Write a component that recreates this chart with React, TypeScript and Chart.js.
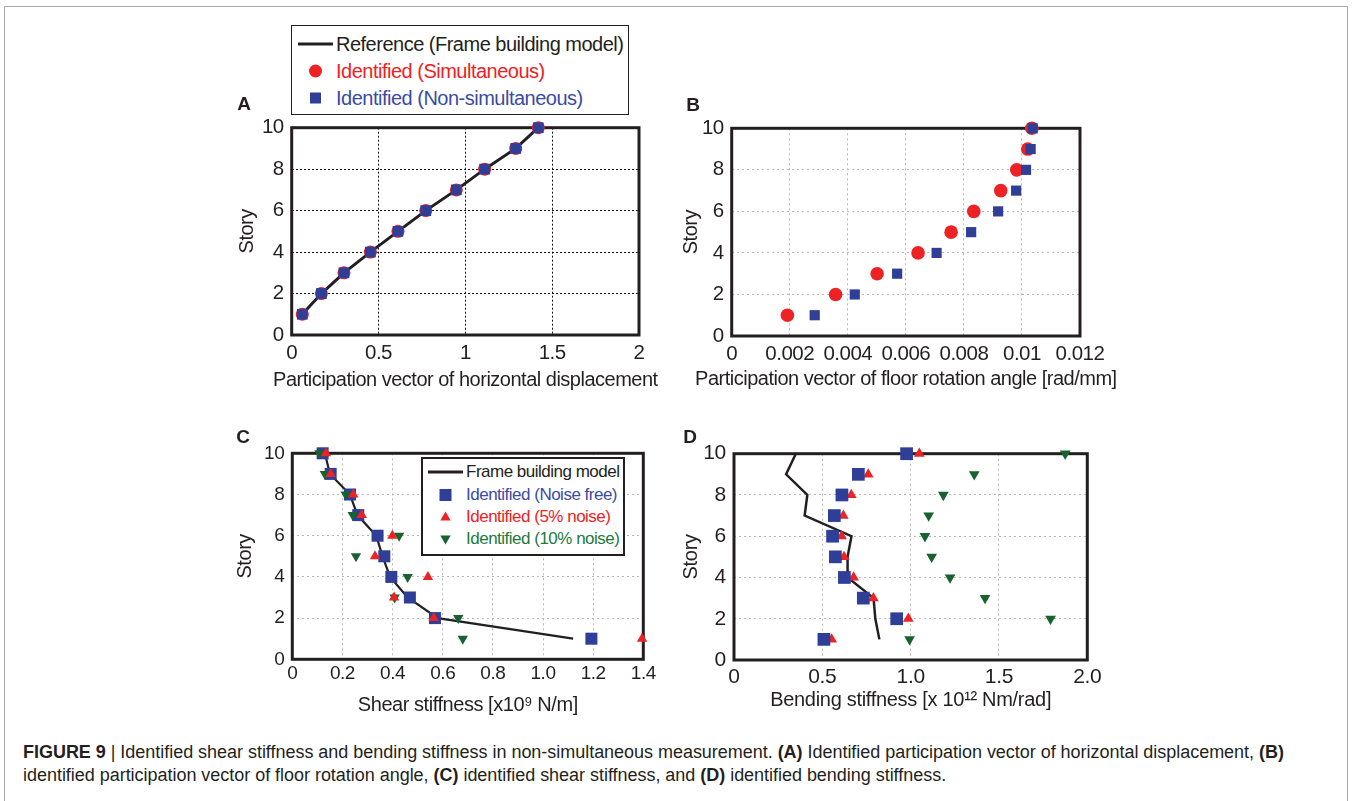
import React, { useEffect, useRef } from "react";
import { Chart, registerables } from "chart.js";

Chart.register(...registerables);

// ---------------- DATA ----------------
const STORIES = [1, 2, 3, 4, 5, 6, 7, 8, 9, 10];

// Panel A: participation vector of horizontal displacement
const A_REFERENCE = [0.061, 0.171, 0.301, 0.453, 0.612, 0.772, 0.948, 1.111, 1.29, 1.42];
const A_SIMULTANEOUS = [0.061, 0.171, 0.301, 0.453, 0.612, 0.772, 0.948, 1.111, 1.29, 1.42];
const A_NON_SIMULTANEOUS = [0.061, 0.171, 0.301, 0.453, 0.612, 0.772, 0.948, 1.111, 1.29, 1.42];
const A_X_TICKS = [0, 0.5, 1, 1.5, 2];
const A_X_LABELS = ["0", "0.5", "1", "1.5", "2"];

// Panel B: participation vector of floor rotation angle
const B_SIMULTANEOUS = [0.00192, 0.00358, 0.00501, 0.00642, 0.00756, 0.00834, 0.00927, 0.00982, 0.0102, 0.01034];
const B_NON_SIMULTANEOUS = [0.00286, 0.00424, 0.0057, 0.00706, 0.00825, 0.00918, 0.0098, 0.01014, 0.0103, 0.01037];
const B_X_TICKS = [0, 0.002, 0.004, 0.006, 0.008, 0.01, 0.012];
const B_X_LABELS = ["0", "0.002", "0.004", "0.006", "0.008", "0.01", "0.012"];

// Panel C: shear stiffness [x10^9 N/m]
const C_MODEL = [1.12, 0.58, 0.46, 0.39, 0.36, 0.335, 0.26, 0.23, 0.15, 0.13];
const C_NOISE_FREE = [1.193, 0.569, 0.469, 0.395, 0.367, 0.34, 0.263, 0.23, 0.153, 0.121];
const C_NOISE_5 = [1.395, 0.564, 0.406, 0.541, 0.33, 0.399, 0.277, 0.243, 0.153, 0.134];
const C_NOISE_10 = [0.68, 0.662, 0.408, 0.46, 0.254, 0.426, 0.241, 0.213, 0.13, 0.108];
const C_X_TICKS = [0, 0.2, 0.4, 0.6, 0.8, 1.0, 1.2, 1.4];
const C_X_LABELS = ["0", "0.2", "0.4", "0.6", "0.8", "1.0", "1.2", "1.4"];

// Panel D: bending stiffness [x10^12 Nm/rad]
const D_MODEL = [0.823, 0.8, 0.79, 0.643, 0.643, 0.665, 0.4, 0.415, 0.295, 0.35];
const D_NOISE_FREE = [0.509, 0.921, 0.732, 0.625, 0.574, 0.558, 0.568, 0.611, 0.704, 0.977];
const D_NOISE_5 = [0.553, 0.987, 0.789, 0.677, 0.623, 0.609, 0.619, 0.664, 0.76, 1.049];
const D_NOISE_10 = [0.994, 1.792, 1.421, 1.223, 1.119, 1.081, 1.102, 1.185, 1.36, 1.875];
const D_X_TICKS = [0, 0.5, 1.0, 1.5, 2.0];
const D_X_LABELS = ["0", "0.5", "1.0", "1.5", "2.0"];

const Y_TICKS = [0, 2, 4, 6, 8, 10];
const Y_LABELS = ["0", "2", "4", "6", "8", "10"];

// ---------------- STYLE ----------------
const RED = "#ed2224";
const BLUE = "#2f3f98";
const GREEN = "#17622f";
const INK = "#231f20";
const SANS = "'Liberation Sans', Arial, Helvetica, sans-serif";

const pts = (xs: number[], ys: number[]) => xs.map((x, i) => ({ x, y: ys[i] }));

const framePlugin = {
  id: "frame",
  beforeDatasetsDraw(chart: any) {
    const { ctx, chartArea } = chart;
    const { left, top, right, bottom } = chartArea;
    ctx.save();
    ctx.strokeStyle = INK;
    ctx.lineWidth = 3;
    ctx.strokeRect(left, top, right - left, bottom - top);
    ctx.restore();
  },
};

type Box = { x: number; y: number; w: number; h: number };
type Plot = { l: number; t: number; r: number; b: number };

type PanelSpec = {
  canvas: Box;
  plot: Plot;
  xMax: number;
  xTicks: number[];
  xLabels: string[];
  xTitle: string;
  yTitleCx: number;
  xTitleCy: number;
  xTickCy: number;
  tickSize: number;
  titleSize: number;
  spacing: number;
  gridColor: string;
  gridDash: number[];
  datasets: any[];
};

function buildConfig(p: PanelSpec): any {
  const tlh = p.titleSize * 1.2;
  const klh = p.tickSize * 1.2;
  const yAxisLeft = p.yTitleCx - tlh / 2 - 4;
  const xAxisBottom = p.xTitleCy + tlh / 2 + 4;
  const padding = {
    left: yAxisLeft - p.canvas.x,
    top: p.plot.t - p.canvas.y,
    right: p.canvas.x + p.canvas.w - p.plot.r,
    bottom: p.canvas.y + p.canvas.h - xAxisBottom,
  };
  const yWidth = p.plot.l - yAxisLeft;
  const xHeight = xAxisBottom - p.plot.b;
  const tickFont = { family: SANS, size: p.tickSize, lineHeight: 1.2 };
  const titleFont = { family: SANS, size: p.titleSize, lineHeight: 1.2 };
  // condensed look of the original lettering + room for long axis titles
  const textPlugin = {
    id: "textTweak",
    afterLayout(chart: any) {
      const x = chart.scales.x;
      x.left -= 150;
      x.right += 150;
      x.width += 300;
    },
    beforeDraw(chart: any) {
      chart.ctx.letterSpacing = `${p.spacing}px`;
    },
  };
  return {
    type: "scatter",
    data: { datasets: p.datasets },
    options: {
      responsive: false,
      animation: false,
      events: [],
      layout: { padding },
      plugins: { legend: { display: false }, tooltip: { enabled: false } },
      scales: {
        x: {
          type: "linear",
          min: 0,
          max: p.xMax,
          afterBuildTicks: (s: any) => {
            s.ticks = p.xTicks.map((v) => ({ value: v }));
          },
          afterFit: (s: any) => {
            s.height = xHeight;
          },
          ticks: {
            autoSkip: false,
            maxRotation: 0,
            color: INK,
            font: tickFont,
            padding: p.xTickCy - p.plot.b - klh / 2,
            callback: (_v: any, i: number) => p.xLabels[i],
          },
          grid: { color: p.gridColor, lineWidth: 1, drawTicks: false },
          border: { display: false, dash: p.gridDash },
          title: { display: true, text: p.xTitle, color: INK, font: titleFont, padding: { top: 4, bottom: 4 } },
        },
        y: {
          type: "linear",
          min: 0,
          max: 10,
          afterBuildTicks: (s: any) => {
            s.ticks = Y_TICKS.map((v) => ({ value: v }));
          },
          afterFit: (s: any) => {
            s.width = yWidth;
          },
          ticks: {
            autoSkip: false,
            color: INK,
            font: tickFont,
            padding: 8,
            callback: (_v: any, i: number) => Y_LABELS[i],
          },
          grid: { color: p.gridColor, lineWidth: 1, drawTicks: false },
          border: { display: false, dash: p.gridDash },
          title: { display: true, text: "Story", color: INK, font: titleFont, padding: { top: 4, bottom: 4 } },
        },
      },
    },
    plugins: [textPlugin, framePlugin],
  };
}

const lineDs = (xs: number[], width: number) => ({
  data: pts(xs, STORIES),
  showLine: true,
  borderColor: INK,
  borderWidth: width,
  pointRadius: 0,
  fill: false,
  clip: false,
  order: 10,
});

const markerDs = (xs: number[], style: string, radius: number, color: string, order: number, rotation = 0) => ({
  data: pts(xs, STORIES),
  showLine: false,
  pointStyle: style,
  pointRadius: radius,
  pointRotation: rotation,
  pointBackgroundColor: color,
  pointBorderColor: color,
  pointBorderWidth: 0,
  clip: false,
  order,
});

const PANELS: PanelSpec[] = [
  {
    canvas: { x: 200, y: 100, w: 470, h: 300 },
    plot: { l: 291.7, t: 127.7, r: 639, b: 335 },
    xMax: 2,
    xTicks: A_X_TICKS,
    xLabels: A_X_LABELS,
    xTitle: "Participation vector of horizontal displacement",
    yTitleCx: 247,
    xTitleCy: 380,
    xTickCy: 353.3,
    tickSize: 20.5,
    titleSize: 20,
    spacing: -0.5,
    gridColor: "#111",
    gridDash: [2, 2],
    datasets: [
      lineDs(A_REFERENCE, 3),
      markerDs(A_SIMULTANEOUS, "circle", 6.5, RED, 2),
      markerDs(A_NON_SIMULTANEOUS, "rect", 7.6, BLUE, 1),
    ],
  },
  {
    canvas: { x: 660, y: 100, w: 470, h: 300 },
    plot: { l: 731.7, t: 128.3, r: 1080, b: 336 },
    xMax: 0.012,
    xTicks: B_X_TICKS,
    xLabels: B_X_LABELS,
    xTitle: "Participation vector of floor rotation angle [rad/mm]",
    yTitleCx: 691.7,
    xTitleCy: 379,
    xTickCy: 354,
    tickSize: 20.5,
    titleSize: 20,
    spacing: -0.5,
    gridColor: "#b8b8b8",
    gridDash: [2, 3],
    datasets: [
      markerDs(B_SIMULTANEOUS, "circle", 6.8, RED, 2),
      markerDs(B_NON_SIMULTANEOUS, "rect", 7.2, BLUE, 1),
    ],
  },
  {
    canvas: { x: 200, y: 425, w: 470, h: 300 },
    plot: { l: 292.3, t: 453.3, r: 643.3, b: 659.3 },
    xMax: 1.4,
    xTicks: C_X_TICKS,
    xLabels: C_X_LABELS,
    xTitle: "Shear stiffness [x10\u2079 N/m]",
    yTitleCx: 245,
    xTitleCy: 705,
    xTickCy: 673.3,
    tickSize: 19,
    titleSize: 20,
    spacing: -0.45,
    gridColor: "#b8b8b8",
    gridDash: [2, 3],
    datasets: [
      lineDs(C_MODEL, 2.2),
      markerDs(C_NOISE_FREE, "rect", 8.5, BLUE, 3),
      markerDs(C_NOISE_10, "triangle", 6, GREEN, 2, 180),
      markerDs(C_NOISE_5, "triangle", 6, RED, 1),
    ],
  },
  {
    canvas: { x: 660, y: 425, w: 470, h: 300 },
    plot: { l: 734, t: 453.7, r: 1087.3, b: 660 },
    xMax: 2,
    xTicks: D_X_TICKS,
    xLabels: D_X_LABELS,
    xTitle: "Bending stiffness [x 10\u00b9\u00b2 Nm/rad]",
    yTitleCx: 691.7,
    xTitleCy: 700,
    xTickCy: 677.3,
    tickSize: 21,
    titleSize: 20,
    spacing: -0.3,
    gridColor: "#b8b8b8",
    gridDash: [2, 3],
    datasets: [
      lineDs(D_MODEL, 2.5),
      markerDs(D_NOISE_5, "triangle", 6.2, RED, 3),
      markerDs(D_NOISE_FREE, "rect", 9, BLUE, 2),
      markerDs(D_NOISE_10, "triangle", 6.2, GREEN, 1, 180),
    ],
  },
];

function Panel({ spec }: { spec: PanelSpec }) {
  const ref = useRef<HTMLCanvasElement | null>(null);
  useEffect(() => {
    if (!ref.current) return;
    const chart = new Chart(ref.current, buildConfig(spec));
    return () => chart.destroy();
  }, [spec]);
  return (
    <canvas
      ref={ref}
      width={spec.canvas.w}
      height={spec.canvas.h}
      style={{ position: "absolute", left: spec.canvas.x, top: spec.canvas.y, width: spec.canvas.w, height: spec.canvas.h }}
    />
  );
}

// ---------------- LEGENDS ----------------
function Marker({ kind, color, size }: { kind: string; color: string; size: number }) {
  const s = size;
  let shape: any = null;
  if (kind === "line") shape = <line x1={0} y1={s / 2} x2={s} y2={s / 2} stroke={color} strokeWidth={3} />;
  if (kind === "circle") shape = <circle cx={s / 2} cy={s / 2} r={6.5} fill={color} />;
  if (kind === "square") shape = <rect x={s / 2 - 5.5} y={s / 2 - 5.5} width={11} height={11} fill={color} />;
  if (kind === "square12") shape = <rect x={s / 2 - 6} y={s / 2 - 6} width={12} height={12} fill={color} />;
  if (kind === "up") shape = <polygon points={`${s / 2 - 5.2},${s / 2 + 3.5} ${s / 2 + 5.2},${s / 2 + 3.5} ${s / 2},${s / 2 - 5.5}`} fill={color} />;
  if (kind === "down") shape = <polygon points={`${s / 2 - 5.2},${s / 2 - 3.5} ${s / 2 + 5.2},${s / 2 - 3.5} ${s / 2},${s / 2 + 5.5}`} fill={color} />;
  return (
    <svg width={s} height={24} viewBox={`0 ${s / 2 - 12} ${s} 24`} style={{ display: "block" }}>
      {shape}
    </svg>
  );
}

type LegendItem = { kind: string; label: string; color: string; textColor: string };

function Legend({
  box,
  rows,
  items,
  markerX,
  markerW,
  textX,
  fontSize,
  spacing,
  border,
}: {
  box: Plot;
  rows: number[];
  items: LegendItem[];
  markerX: number;
  markerW: number;
  textX: number;
  fontSize: number;
  spacing: number;
  border: number;
}) {
  return (
    <>
      <div
        style={{
          position: "absolute",
          left: box.l,
          top: box.t,
          width: box.r - box.l,
          height: box.b - box.t,
          boxSizing: "border-box",
          border: `${border}px solid ${INK}`,
          background: "#fff",
        }}
      />
      {items.map((it, i) => (
        <React.Fragment key={i}>
          <div style={{ position: "absolute", left: markerX, top: rows[i] - 12 }}>
            <Marker kind={it.kind} color={it.color} size={markerW} />
          </div>
          <div
            style={{
              position: "absolute",
              left: textX,
              top: rows[i] - fontSize * 0.6,
              height: fontSize * 1.2,
              lineHeight: `${fontSize * 1.2}px`,
              fontFamily: SANS,
              fontSize,
              letterSpacing: `${spacing}px`,
              color: it.textColor,
              whiteSpace: "nowrap",
            }}
          >
            {it.label}
          </div>
        </React.Fragment>
      ))}
    </>
  );
}

const LEGEND_A: LegendItem[] = [
  { kind: "line", label: "Reference (Frame building model)", color: INK, textColor: INK },
  { kind: "circle", label: "Identified (Simultaneous)", color: RED, textColor: RED },
  { kind: "square", label: "Identified (Non-simultaneous)", color: BLUE, textColor: "#3b4ba3" },
];

const LEGEND_C: LegendItem[] = [
  { kind: "line", label: "Frame building model", color: INK, textColor: INK },
  { kind: "square12", label: "Identified (Noise free)", color: BLUE, textColor: "#3b4ba3" },
  { kind: "up", label: "Identified (5% noise)", color: RED, textColor: RED },
  { kind: "down", label: "Identified (10% noise)", color: GREEN, textColor: "#237a3e" },
];

function PanelLetter({ text, cx, cy }: { text: string; cx: number; cy: number }) {
  return (
    <div
      style={{
        position: "absolute",
        left: cx,
        top: cy,
        transform: "translate(-50%, -50%)",
        fontFamily: SANS,
        fontWeight: 700,
        fontSize: 19,
        lineHeight: "20px",
        color: INK,
      }}
    >
      {text}
    </div>
  );
}

export default function App() {
  return (
    <div
      style={{
        position: "absolute",
        left: 0,
        top: 0,
        width: 1352,
        height: 801,
        overflow: "hidden",
        background: "#fff",
      }}
    >
      <div
        style={{
          position: "absolute",
          left: 4,
          top: 6,
          width: 1344,
          height: 900,
          boxSizing: "border-box",
          border: "1.5px solid #a9a9a9",
        }}
      />
      {PANELS.map((p, i) => (
        <Panel key={i} spec={p} />
      ))}
      <Legend
        box={{ l: 291, t: 24.5, r: 629, b: 115 }}
        rows={[44, 71, 97.7]}
        items={LEGEND_A}
        markerX={298}
        markerW={35}
        textX={336}
        fontSize={20}
        spacing={-0.5}
        border={1.5}
      />
      <Legend
        box={{ l: 420.5, t: 456.5, r: 624.5, b: 555.5 }}
        rows={[472.3, 495.3, 517.3, 539]}
        items={LEGEND_C}
        markerX={428}
        markerW={35}
        textX={466}
        fontSize={17}
        spacing={-0.5}
        border={2}
      />
      <PanelLetter text="A" cx={244} cy={104} />
      <PanelLetter text="B" cx={693} cy={105} />
      <PanelLetter text="C" cx={243} cy={437} />
      <PanelLetter text="D" cx={690} cy={437} />
      <div
        style={{
          position: "absolute",
          left: 23,
          top: 741,
          fontFamily: SANS,
          fontSize: 18,
          letterSpacing: "-0.03px",
          lineHeight: "23.4px",
          color: "#231f20",
          whiteSpace: "nowrap",
        }}
      >
        <div>
          <b>FIGURE 9</b> | Identified shear stiffness and bending stiffness in non-simultaneous measurement. <b>(A)</b> Identified
          participation vector of horizontal displacement, <b>(B)</b>
        </div>
        <div>
          identified participation vector of floor rotation angle, <b>(C)</b> identified shear stiffness, and <b>(D)</b> identified
          bending stiffness.
        </div>
      </div>
    </div>
  );
}
